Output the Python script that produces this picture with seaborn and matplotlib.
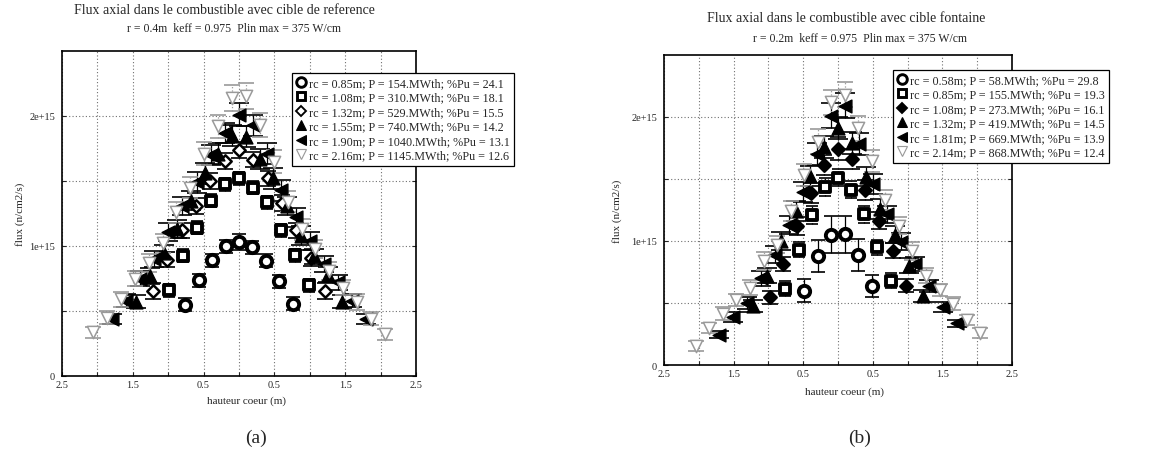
import numpy as np
import pandas as pd
import matplotlib
matplotlib.use("Agg")
import matplotlib.pyplot as plt
from matplotlib.lines import Line2D
import seaborn as sns

# ---------------- data (height in m, flux in units of 1e15 n/cm2/s) ----------------
FLUX_UNIT = 1e15

# (a) reference target
a_labels = [
    "rc = 0.85m; P = 154.MWth; %Pu = 24.1",
    "rc = 1.08m; P = 310.MWth; %Pu = 18.1",
    "rc = 1.32m; P = 529.MWth; %Pu = 15.5",
    "rc = 1.55m; P = 740.MWth; %Pu = 14.2",
    "rc = 1.90m; P = 1040.MWth; %Pu = 13.1",
    "rc = 2.16m; P = 1145.MWth; %Pu = 12.6",
]
a_x1 = [-0.756, -0.567, -0.378, -0.189, 0.0, 0.189, 0.378, 0.567, 0.756]
a_y1 = [0.55, 0.735, 0.89, 1.00, 1.03, 0.99, 0.885, 0.73, 0.555]
a_e1 = [0.05, 0.05, 0.05, 0.05, 0.06, 0.05, 0.05, 0.05, 0.05]

a_x2 = [-0.982, -0.786, -0.589, -0.393, -0.196, 0.0, 0.196, 0.393, 0.589, 0.786, 0.982]
a_y2 = [0.66, 0.925, 1.14, 1.35, 1.475, 1.52, 1.45, 1.335, 1.12, 0.93, 0.70]
a_e2 = [0.05, 0.05, 0.05, 0.05, 0.05, 0.05, 0.05, 0.05, 0.05, 0.05, 0.05]

a_x3 = [-1.218, -1.015, -0.812, -0.609, -0.406, -0.203, 0.0, 0.203, 0.406, 0.609, 0.812, 1.015, 1.218]
a_y3 = [0.655, 0.895, 1.12, 1.31, 1.50, 1.655, 1.74, 1.665, 1.52, 1.33, 1.12, 0.91, 0.655]
a_e3 = [0.06, 0.06, 0.06, 0.06, 0.06, 0.06, 0.06, 0.06, 0.06, 0.06, 0.06, 0.06, 0.06]

a_x4 = [-1.453, -1.259, -1.066, -0.872, -0.678, -0.484, -0.291, -0.097,
        0.097, 0.291, 0.484, 0.678, 0.872, 1.066, 1.259, 1.453]
a_y4 = [0.57, 0.77, 0.95, 1.13, 1.35, 1.56, 1.71, 1.85,
        1.84, 1.67, 1.52, 1.31, 1.08, 0.92, 0.78, 0.57]
a_e4 = [0.05, 0.06, 0.06, 0.07, 0.07, 0.08, 0.08, 0.08,
        0.08, 0.08, 0.08, 0.07, 0.07, 0.06, 0.06, 0.05]

a_x5 = [-1.8, -1.6, -1.4, -1.2, -1.0, -0.8, -0.6, -0.4, -0.2, 0.0,
        0.2, 0.4, 0.6, 0.8, 1.0, 1.2, 1.4, 1.6, 1.8]
a_y5 = [0.44, 0.58, 0.75, 0.90, 1.11, 1.31, 1.49, 1.70, 1.87, 2.01,
        1.93, 1.71, 1.43, 1.22, 1.04, 0.86, 0.72, 0.58, 0.44]
a_e5 = [0.04, 0.05, 0.06, 0.06, 0.07, 0.07, 0.08, 0.08, 0.08, 0.09,
        0.08, 0.08, 0.08, 0.07, 0.07, 0.06, 0.06, 0.05, 0.04]

a_x6 = [-2.062, -1.865, -1.669, -1.473, -1.276, -1.080, -0.884, -0.687, -0.491, -0.295, -0.098,
        0.098, 0.295, 0.491, 0.687, 0.884, 1.080, 1.276, 1.473, 1.669, 1.865, 2.062]
a_y6 = [0.335, 0.45, 0.59, 0.75, 0.87, 1.02, 1.26, 1.45, 1.71, 1.92, 2.14,
        2.155, 1.93, 1.65, 1.34, 1.13, 0.98, 0.81, 0.68, 0.57, 0.44, 0.32]
a_e6 = [0.04, 0.05, 0.06, 0.06, 0.07, 0.07, 0.08, 0.08, 0.09, 0.09, 0.10,
        0.10, 0.09, 0.09, 0.08, 0.08, 0.07, 0.07, 0.06, 0.06, 0.05, 0.04]

# (b) fountain target
b_labels = [
    "rc = 0.58m; P = 58.MWth; %Pu = 29.8",
    "rc = 0.85m; P = 155.MWth; %Pu = 19.3",
    "rc = 1.08m; P = 273.MWth; %Pu = 16.1",
    "rc = 1.32m; P = 419.MWth; %Pu = 14.5",
    "rc = 1.81m; P = 669.MWth; %Pu = 13.9",
    "rc = 2.14m; P = 868.MWth; %Pu = 12.4",
]
b_x1 = [-0.483, -0.290, -0.097, 0.097, 0.290, 0.483]
b_y1 = [0.60, 0.88, 1.05, 1.055, 0.89, 0.635]
b_e1 = [0.09, 0.13, 0.15, 0.15, 0.13, 0.09]

b_x2 = [-0.756, -0.567, -0.378, -0.189, 0.0, 0.189, 0.378, 0.567, 0.756]
b_y2 = [0.615, 0.93, 1.21, 1.435, 1.51, 1.415, 1.215, 0.95, 0.68]
b_e2 = [0.06, 0.06, 0.07, 0.07, 0.07, 0.07, 0.07, 0.06, 0.06]

b_x3 = [-0.982, -0.786, -0.589, -0.393, -0.196, 0.0, 0.196, 0.393, 0.589, 0.786, 0.982]
b_y3 = [0.545, 0.815, 1.12, 1.39, 1.61, 1.745, 1.66, 1.41, 1.165, 0.92, 0.64]
b_e3 = [0.05, 0.06, 0.07, 0.08, 0.08, 0.09, 0.08, 0.08, 0.07, 0.06, 0.05]

b_x4 = [-1.218, -1.015, -0.812, -0.609, -0.406, -0.203, 0.0, 0.203, 0.406, 0.609, 0.812, 1.015, 1.218]
b_y4 = [0.475, 0.72, 1.00, 1.245, 1.525, 1.76, 1.91, 1.79, 1.52, 1.26, 1.05, 0.80, 0.555]
b_e4 = [0.05, 0.06, 0.07, 0.08, 0.08, 0.09, 0.09, 0.09, 0.08, 0.08, 0.07, 0.06, 0.05]

b_x5 = [-1.709, -1.508, -1.307, -1.106, -0.905, -0.704, -0.503, -0.302, -0.101,
        0.101, 0.302, 0.503, 0.704, 0.905, 1.106, 1.307, 1.508, 1.709]
b_y5 = [0.245, 0.385, 0.50, 0.70, 0.89, 1.13, 1.395, 1.70, 2.01,
        2.09, 1.78, 1.46, 1.215, 0.995, 0.815, 0.635, 0.47, 0.335]
b_e5 = [0.03, 0.04, 0.05, 0.06, 0.07, 0.07, 0.08, 0.09, 0.10,
        0.10, 0.09, 0.08, 0.07, 0.07, 0.06, 0.05, 0.04, 0.03]

b_x6 = [-2.043, -1.848, -1.653, -1.459, -1.264, -1.070, -0.875, -0.681, -0.486, -0.292, -0.097,
        0.097, 0.292, 0.486, 0.681, 0.875, 1.070, 1.264, 1.459, 1.653, 1.848, 2.043]
b_y6 = [0.156, 0.30, 0.415, 0.525, 0.625, 0.84, 0.97, 1.24, 1.53, 1.80, 2.12,
        2.18, 1.91, 1.645, 1.33, 1.125, 0.92, 0.72, 0.607, 0.495, 0.36, 0.257]
b_e6 = [0.04, 0.04, 0.05, 0.05, 0.06, 0.07, 0.07, 0.08, 0.09, 0.10, 0.10,
        0.10, 0.10, 0.09, 0.08, 0.07, 0.07, 0.06, 0.05, 0.05, 0.04, 0.04]

x_tick_pos = [-2.5, -1.5, -0.5, 0.5, 1.5, 2.5]
x_tick_lab = ["2.5", "1.5", "0.5", "0.5", "1.5", "2.5"]
y_tick_pos = [0, 1e15, 2e15]
y_tick_lab = ["0", "1e+15", "2e+15"]

titles = ["Flux axial dans le combustible avec cible de reference",
          "Flux axial dans le combustible avec cible fontaine"]
subtitles = ["r = 0.4m  keff = 0.975  Plin max = 375 W/cm",
             "r = 0.2m  keff = 0.975  Plin max = 375 W/cm"]

# ---------------- styling ----------------
sns.set_style("white")
plt.rcParams['font.family'] = ['Liberation Serif', 'DejaVu Serif']

W, H = 1154, 464
fig = plt.figure(figsize=(W / 100, H / 100), dpi=100)


def rect(x0, x1, ytop, ybot):
    return [x0 / W, 1 - ybot / H, (x1 - x0) / W, (ybot - ytop) / H]


axA = fig.add_axes(rect(62, 416, 52, 377))
axB = fig.add_axes(rect(664, 1012, 56, 366))

GRAY = "#9a9a9a"


def marker_styles(diamond_filled):
    return [
        dict(marker='o', color='white', edgecolor='black', linewidth=2.8, s=66),
        dict(marker='s', color='white', edgecolor='black', linewidth=2.8, s=56),
        dict(marker='D', color='black' if diamond_filled else 'white',
             edgecolor='black', linewidth=1.8, s=40),
        dict(marker='^', color='black', edgecolor='black', linewidth=1.0, s=85),
        dict(marker='<', color='black', edgecolor='black', linewidth=1.0, s=85),
        dict(marker='v', color='white', edgecolor=GRAY, linewidth=1.1, s=78),
    ]


err_styles = [
    dict(ecolor='black', ls='-', cap=5.0),
    dict(ecolor='black', ls=':', cap=4.5),
    dict(ecolor='black', ls=':', cap=5.5),
    dict(ecolor='black', ls='-', cap=7.0),
    dict(ecolor='black', ls='-', cap=7.0),
    dict(ecolor=GRAY, ls=':', cap=6.0),
]


def draw_panel(ax, xs, ys, es, labels, diamond_filled, title, subtitle,
               title_xy, sub_xy, legend_xy, ylab_x, xlab_y):
    mstyles = marker_styles(diamond_filled)
    frames = []
    for i, (x, y, e) in enumerate(zip(xs, ys, es)):
        frames.append(pd.DataFrame({"h": x, "flux": np.array(y) * FLUX_UNIT,
                                    "err": np.array(e) * FLUX_UNIT, "serie": labels[i]}))
    df = pd.concat(frames, ignore_index=True)
    for i, lab in enumerate(labels):
        d = df[df["serie"] == lab]
        es_ = err_styles[i]
        eb = ax.errorbar(d["h"], d["flux"], yerr=d["err"], fmt='none',
                         ecolor=es_['ecolor'], elinewidth=0.9, capsize=es_['cap'],
                         capthick=1.2, zorder=2)
        if es_['ls'] != '-':
            for lc in eb[2]:
                lc.set_linestyle(es_['ls'])
        sns.scatterplot(data=d, x="h", y="flux", ax=ax, legend=False, zorder=3,
                        **mstyles[i])

    ax.set_xlim(-2.5, 2.5)
    ax.set_ylim(0, 2.5e15)
    ax.set_xticks(x_tick_pos)
    ax.set_xticklabels(x_tick_lab)
    ax.set_xticks([-2, -1, 0, 1, 2], minor=True)
    ax.set_yticks(y_tick_pos)
    ax.set_yticklabels(y_tick_lab)
    ax.set_yticks([0.5e15, 1.5e15], minor=True)
    ax.grid(True, which='both', color='#707070', linestyle=(0, (1, 2)), linewidth=0.8)
    ax.tick_params(axis='both', which='both', direction='in', length=3, width=0.8,
                   labelsize=7.5, right=True, top=False, bottom=True, left=True)
    ax.tick_params(axis='x', pad=3)
    ax.tick_params(axis='y', pad=5)
    for sp in ax.spines.values():
        sp.set_color('black')
        sp.set_linewidth(1.2)
    ax.set_xlabel("hauteur coeur (m)", fontsize=8)
    ax.set_ylabel("flux (n/cm2/s)", fontsize=8)
    ax.xaxis.set_label_coords(0.52, xlab_y)
    ax.yaxis.set_label_coords(ylab_x, 0.5)

    fig.text(title_xy[0] / W, 1 - title_xy[1] / H, title, ha='center', va='center', fontsize=10)
    fig.text(sub_xy[0] / W, 1 - sub_xy[1] / H, subtitle, ha='center', va='center', fontsize=8.5)

    handles = []
    for st in mstyles:
        handles.append(Line2D([], [], linestyle='none', marker=st['marker'],
                              markerfacecolor=st['color'], markeredgecolor=st['edgecolor'],
                              markeredgewidth=st['linewidth'] * 0.75,
                              markersize=np.sqrt(st['s']) * 0.85))
    leg = ax.legend(handles, labels, loc='upper left',
                    bbox_to_anchor=(legend_xy[0] / W, 1 - legend_xy[1] / H),
                    bbox_transform=fig.transFigure, fontsize=8.7, frameon=True,
                    fancybox=False, framealpha=1, edgecolor='black',
                    handlelength=0.8, handletextpad=0.25, borderpad=0.35,
                    labelspacing=0.2, borderaxespad=0)
    leg.get_frame().set_linewidth(0.9)
    leg.set_zorder(10)


draw_panel(axA, [a_x1, a_x2, a_x3, a_x4, a_x5, a_x6],
           [a_y1, a_y2, a_y3, a_y4, a_y5, a_y6],
           [a_e1, a_e2, a_e3, a_e4, a_e5, a_e6],
           a_labels, False, titles[0], subtitles[0],
           (224, 10), (234, 29), (292, 74), -0.105, -0.06)
draw_panel(axB, [b_x1, b_x2, b_x3, b_x4, b_x5, b_x6],
           [b_y1, b_y2, b_y3, b_y4, b_y5, b_y6],
           [b_e1, b_e2, b_e3, b_e4, b_e5, b_e6],
           b_labels, True, titles[1], subtitles[1],
           (846, 18), (860, 39), (893, 71), -0.12, -0.068)

fig.text(256 / W, 1 - 438 / H, "(a)", ha='center', va='center', fontsize=14)
fig.text(860 / W, 1 - 438 / H, "(b)", ha='center', va='center', fontsize=14)

fig.savefig("out.png", dpi=100, facecolor='white')
